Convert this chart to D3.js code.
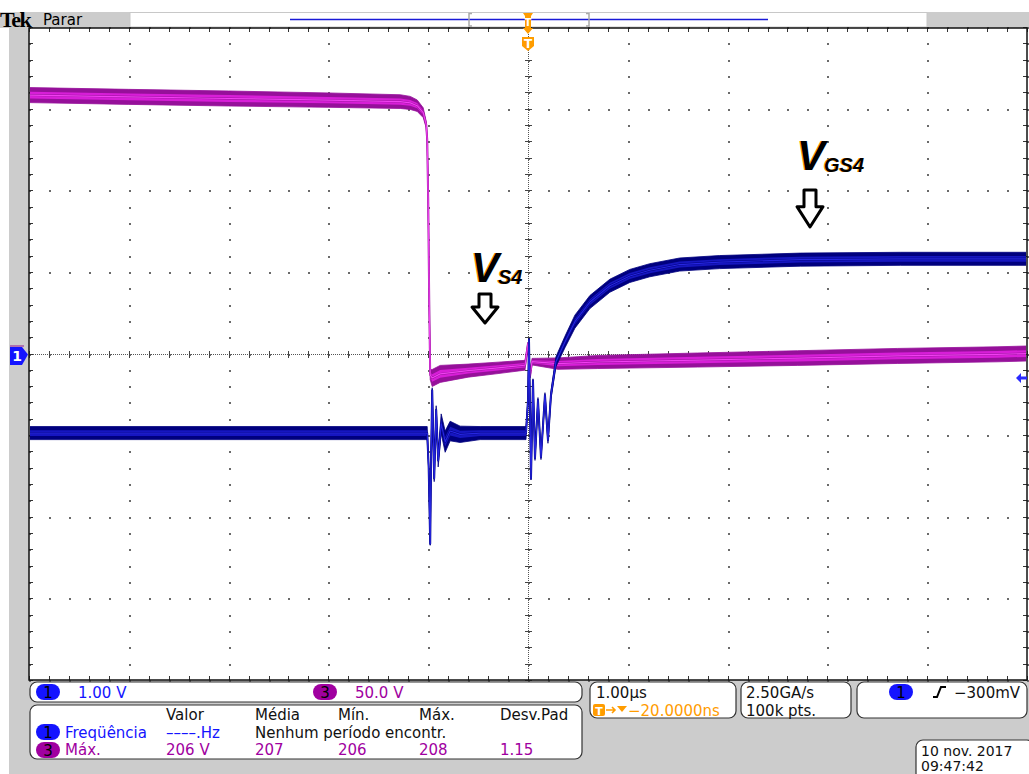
<!DOCTYPE html>
<html>
<head>
<meta charset="utf-8">
<script src="https://cdn.jsdelivr.net/npm/d3@7"></script>
<style>
  html, body { margin: 0; padding: 0; background: #fff; }
  svg { display: block; }
</style>
</head>
<body>
<div id="scope"></div>
<script>
const width = 1029;
const height = 774;

// time in us, 1 us/div, trigger at 0
const timeRange = [-5, 5];
// CH1 1.00 V/div, CH3 50.0 V/div, both grounded on the centre line
const ch1Range = [-4, 4];
const ch3Range = [-200, 200];

// [time us, volts, noise half-width volts]
const ch1Trace = [
    [-5.0, -0.975, 0.08], [-1.01, -0.975, 0.08], [-0.995, -1.4, 0.02],
    [-0.98, -2.33, 0.02], [-0.97, -1.2, 0.02], [-0.96, -0.45, 0.03],
    [-0.94, -1.53, 0.04], [-0.92, -0.69, 0.05], [-0.9, -1.31, 0.08],
    [-0.87, -0.86, 0.12], [-0.83, -1.08, 0.13], [-0.78, -0.95, 0.12],
    [-0.68, -0.99, 0.1], [-0.48, -0.975, 0.08], [-0.02, -0.975, 0.08],
    [0.0, -0.57, 0.02], [0.01, 0.17, 0.02], [0.03, -1.53, 0.02],
    [0.05, -0.33, 0.02], [0.07, -1.28, 0.03], [0.1, -0.57, 0.03],
    [0.13, -1.27, 0.03], [0.17, -0.51, 0.03], [0.2, -1.06, 0.04],
    [0.23, -0.51, 0.05], [0.28, -0.1, 0.06], [0.37, 0.14, 0.07],
    [0.47, 0.39, 0.08], [0.62, 0.63, 0.08], [0.82, 0.83, 0.08],
    [1.02, 0.95, 0.08], [1.22, 1.02, 0.08], [1.52, 1.09, 0.08],
    [1.92, 1.12, 0.08], [2.73, 1.15, 0.08], [3.73, 1.16, 0.08],
    [5.0, 1.16, 0.08],
];

const ch3Trace = [
    [-5.0, 158.3, 4.6], [-4.0, 157.2, 4.6], [-3.0, 156.2, 4.6],
    [-2.0, 155.2, 4.4], [-1.28, 154.3, 4.2], [-1.18, 153.5, 4.0],
    [-1.11, 151.8, 3.5], [-1.05, 147.5, 3.0], [-1.02, 140.2, 2.0],
    [-1.01, 131.0, 1.0], [-1.0, 94.0, 0.5], [-0.99, 33.0, 0.5],
    [-0.98, -13.0, 3.0], [-0.96, -15.0, 5.2], [-0.88, -12.5, 5.2],
    [-0.6, -10.5, 4.0], [-0.3, -8.8, 3.5], [-0.03, -7.2, 3.0],
    [0.0, 6.0, 1.0], [0.02, -14.0, 1.0], [0.04, -5.0, 2.0],
    [0.3, -6.2, 3.5], [0.7, -5.2, 4.0], [1.7, -4.0, 4.3],
    [2.7, -2.8, 4.5], [3.7, -1.5, 4.6], [4.7, -0.5, 4.6],
    [5.0, 0.0, 4.6],
];

const measureHeaders = ['Valor', 'Média', 'Mín.', 'Máx.', 'Desv.Pad'];
const measureRow3 = ['206 V', '207', '206', '208', '1.15'];

const svg = d3.select('#scope')
    .append('svg')
    .attr('width', width)
    .attr('height', height)
    .style('font-family', 'DejaVu Sans, sans-serif');

const x = d3.scaleLinear().domain(timeRange).range([29, 1027]);
const y1 = d3.scaleLinear().domain(ch1Range).range([680, 27]);
const y3 = d3.scaleLinear().domain(ch3Range).range([680, 27]);

const gray = '#cccccc';
const blue = '#1414ff';
const purple = '#a000a0';
const orange = '#ff9c00';

// ---- frame backgrounds
svg.append('rect').attr('x', 0).attr('y', 12).attr('width', 130).attr('height', 16).attr('fill', gray);
svg.append('rect').attr('x', 927).attr('y', 12).attr('width', 102).attr('height', 16).attr('fill', gray);
svg.append('rect').attr('x', 9).attr('y', 28).attr('width', 20).attr('height', 652).attr('fill', gray);
svg.append('rect').attr('x', 9).attr('y', 680).attr('width', 1020).attr('height', 94).attr('fill', gray);

svg.append('text').attr('x', 0).attr('y', 27)
    .style('font-family', 'Liberation Serif, serif').style('font-weight', 'bold')
    .style('font-size', '22px').style('letter-spacing', '-1.5px').text('Tek');
svg.append('text').attr('x', 43).attr('y', 25).style('font-size', '15px').text('Parar');

// record view bar
svg.append('rect').attr('x', 130).attr('y', 12.5).attr('width', 797).attr('height', 14.5)
    .attr('fill', '#fff').attr('stroke', '#c8c8c8');
svg.append('line').attr('x1', 290).attr('x2', 768).attr('y1', 19.5).attr('y2', 19.5)
    .attr('stroke', '#1a1ad8').attr('stroke-width', 1.5);
[469, 589].forEach((bx, i) => {
    const d = i === 0 ? 3 : -3;
    svg.append('path')
        .attr('d', `M${bx + d},13.5 H${bx} V26 H${bx + d}`)
        .attr('fill', 'none').attr('stroke', '#aaa').attr('stroke-width', 1.5);
});

// ---- graticule
const plot = svg.append('g');
plot.append('rect').attr('x', 29).attr('y', 28).attr('width', 998).attr('height', 652).attr('fill', '#fff');

const majorT = d3.range(-5, 5.001, 1);
const minorT = d3.range(-5, 5.001, 0.2);
const majorV = d3.range(-4, 4.001, 1);
const minorV = d3.range(-4, 4.001, 0.2);

const dots = [];
majorT.forEach((t) => minorV.forEach((v) => dots.push([x(t), y1(v)])));
majorV.forEach((v) => minorT.forEach((t) => dots.push([x(t), y1(v)])));
plot.selectAll('rect.dot')
    .data(dots)
    .enter()
    .append('rect')
    .attr('class', 'dot')
    .attr('x', (d) => Math.round(d[0]))
    .attr('y', (d) => Math.round(d[1]))
    .attr('width', 2)
    .attr('height', 2)
    .attr('fill', '#6a6a6a');

const cx = Math.round(x(0)) + 0.5;
const cy = Math.round(y1(0)) + 0.5;
plot.append('line').attr('x1', 29).attr('x2', 1027).attr('y1', cy).attr('y2', cy)
    .attr('stroke', '#555').attr('stroke-dasharray', '1,1');
plot.append('line').attr('x1', cx).attr('x2', cx).attr('y1', 28).attr('y2', 680)
    .attr('stroke', '#555').attr('stroke-dasharray', '1,1');
plot.selectAll('line.tickh')
    .data(minorT)
    .enter()
    .append('line')
    .attr('x1', (d) => Math.round(x(d)) + 0.5)
    .attr('x2', (d) => Math.round(x(d)) + 0.5)
    .attr('y1', cy - 3.5)
    .attr('y2', cy + 3.5)
    .attr('stroke', '#444');
plot.selectAll('line.tickv')
    .data(minorV)
    .enter()
    .append('line')
    .attr('y1', (d) => Math.round(y1(d)) + 0.5)
    .attr('y2', (d) => Math.round(y1(d)) + 0.5)
    .attr('x1', cx - 3.5)
    .attr('x2', cx + 3.5)
    .attr('stroke', '#444');

// edge ticks
minorT.forEach((t) => {
    const px = Math.round(x(t)) + 0.5;
    plot.append('line').attr('x1', px).attr('x2', px).attr('y1', 28).attr('y2', 32).attr('stroke', '#333');
    plot.append('line').attr('x1', px).attr('x2', px).attr('y1', 676).attr('y2', 680).attr('stroke', '#333');
});
minorV.forEach((v) => {
    const py = Math.round(y1(v)) + 0.5;
    plot.append('line').attr('x1', 29).attr('x2', 33).attr('y1', py).attr('y2', py).attr('stroke', '#333');
    plot.append('line').attr('x1', 1023).attr('x2', 1027).attr('y1', py).attr('y2', py).attr('stroke', '#333');
});

plot.append('rect').attr('x', 29).attr('y', 28).attr('width', 998).attr('height', 652)
    .attr('fill', 'none').attr('stroke', '#111').attr('stroke-width', 1.5);

// ---- traces
const defs = svg.append('defs');
defs.append('clipPath').attr('id', 'clip')
    .append('rect').attr('x', 30).attr('y', 29).attr('width', 996).attr('height', 650);

const traces = svg.append('g').attr('clip-path', 'url(#clip)');

// noise envelope drawn dark, inner half of it brighter, then the mean line
function drawTrace(data, yScale, dark, mid, bright) {
    const band = (k) => d3.area()
        .x((d) => x(d[0]))
        .y0((d) => yScale(d[1] - d[2] * k))
        .y1((d) => yScale(d[1] + d[2] * k));
    const centre = d3.line()
        .x((d) => x(d[0]))
        .y((d) => yScale(d[1]));
    traces.append('path').datum(data).attr('d', band(1)).attr('fill', dark)
        .attr('stroke', dark).attr('stroke-width', 0.8);
    traces.append('path').datum(data).attr('d', band(0.45)).attr('fill', mid);
    traces.append('path').datum(data).attr('d', centre)
        .attr('fill', 'none').attr('stroke', dark).attr('stroke-width', 2)
        .attr('stroke-linejoin', 'round');
    traces.append('path').datum(data).attr('d', centre)
        .attr('fill', 'none').attr('stroke', bright).attr('stroke-width', 1.2)
        .attr('stroke-linejoin', 'round');
}

drawTrace(ch3Trace, y3, '#96109a', '#d81ed8', '#f040f0');
drawTrace(ch1Trace, y1, '#00007e', '#1616c0', '#2626e0');

// ---- markers
// trigger position marker in record bar
svg.append('path').attr('d', 'M523,13 H533 L531,16 V28 H533 L528,34 L523,28 H525 V16 Z').attr('fill', orange);
svg.append('text').attr('x', 528).attr('y', 26).attr('text-anchor', 'middle')
    .style('font-size', '10px').style('font-weight', 'bold').attr('fill', '#fff').text('T');
svg.append('path').attr('d', 'M522,37 H534 V46 L528,51 L522,46 Z').attr('fill', orange);
svg.append('text').attr('x', 528).attr('y', 48).attr('text-anchor', 'middle')
    .style('font-size', '12px').style('font-weight', 'bold').attr('fill', '#fff').text('T');

// channel 1 ground marker
svg.append('rect').attr('x', 10).attr('y', 345).attr('width', 14).attr('height', 2).attr('fill', '#b070b0');
svg.append('path').attr('d', `M10,347 H22 L28,${cy} L22,365 H10 Z`).attr('fill', blue);
svg.append('text').attr('x', 17).attr('y', 361).attr('text-anchor', 'middle')
    .style('font-size', '14px').style('font-weight', 'bold').attr('fill', '#fff').text('1');

// trigger level arrow
const trigY = y1(-0.3);
svg.append('path').attr('d', `M1016,${trigY} L1021,${trigY - 5} V${trigY - 1.5} H1027 V${trigY + 1.5} H1021 V${trigY + 5} Z`)
    .attr('fill', '#2a2aff');

// ---- annotations
function label(xp, yp, main, sub) {
    const g = svg.append('g').style('font-family', 'Liberation Sans, Arial, sans-serif')
        .style('font-weight', 'bold').style('font-style', 'italic');
    [[orange, -1], ['#000', 0]].forEach(([col, off]) => {
        g.append('text').attr('x', xp + off).attr('y', yp).style('font-size', '42px')
            .attr('fill', col).text(main);
        g.append('text').attr('x', xp + 27 + off).attr('y', yp + 2).style('font-size', '20px')
            .attr('fill', col).text(sub);
    });
}
label(471, 282, 'V', 'S4');
label(797, 170, 'V', 'GS4');

function hollowArrow(xc, top, bottom) {
    const headY = top + (bottom - top) * 0.45;
    svg.append('path')
        .attr('d', `M${xc - 6},${top} H${xc + 6} V${headY} H${xc + 13} L${xc},${bottom} L${xc - 13},${headY} H${xc - 6} Z`)
        .attr('fill', '#fff').attr('stroke', '#000').attr('stroke-width', 3)
        .attr('stroke-linejoin', 'round');
}
hollowArrow(485, 294, 323);
hollowArrow(810, 190, 227);

// ---- bottom readouts
function box(x0, y0, w, h) {
    svg.append('rect').attr('x', x0).attr('y', y0).attr('width', w).attr('height', h)
        .attr('rx', 7).attr('fill', '#fff').attr('stroke', '#333').attr('stroke-width', 1.2);
}
function pill(xc, yc, col, txt) {
    svg.append('rect').attr('x', xc - 12).attr('y', yc - 8).attr('width', 24).attr('height', 16)
        .attr('rx', 8).attr('fill', col);
    svg.append('text').attr('x', xc).attr('y', yc + 5.5).attr('text-anchor', 'middle')
        .style('font-size', '15px').attr('fill', '#000').text(txt);
}
function txt(xp, yp, col, s, size = 15) {
    svg.append('text').attr('x', xp).attr('y', yp).style('font-size', `${size}px`).attr('fill', col).text(s);
}

box(30, 682, 552, 20);
pill(48, 692, blue, '1');
txt(78, 698, blue, '1.00 V');
pill(325, 692, purple, '3');
txt(355, 698, purple, '50.0 V');

box(30, 705, 552, 54);
const colX = [166, 255, 338, 419, 500];
measureHeaders.forEach((h, i) => txt(colX[i], 720, '#111', h));
pill(48, 732, blue, '1');
txt(65, 738, blue, 'Freqüência');
txt(166, 738, blue, '––––.Hz');
txt(255, 738, '#111', 'Nenhum período encontr.');
pill(48, 750, purple, '3');
txt(65, 755, purple, 'Máx.');
measureRow3.forEach((v, i) => txt(colX[i], 755, purple, v));

box(590, 682, 146, 36);
txt(596, 698, '#111', '1.00µs');
svg.append('rect').attr('x', 593).attr('y', 704).attr('width', 12).attr('height', 12).attr('rx', 2).attr('fill', orange);
svg.append('text').attr('x', 599).attr('y', 714.5).attr('text-anchor', 'middle')
    .style('font-size', '11px').style('font-weight', 'bold').attr('fill', '#fff').text('T');
svg.append('path').attr('d', 'M606,710 H615 M612,707 L615,710 L612,713')
    .attr('fill', 'none').attr('stroke', orange).attr('stroke-width', 1.6);
svg.append('path').attr('d', 'M617,706 H627 L622,712 Z').attr('fill', orange);
txt(628, 716, orange, '−20.0000ns');

box(741, 682, 110, 36);
txt(746, 698, '#111', '2.50GA/s');
txt(746, 716, '#111', '100k pts.');

box(857, 682, 170, 36);
pill(901, 692, blue, '1');
svg.append('path').attr('d', 'M933,697 H937 L941,687 H946')
    .attr('fill', 'none').attr('stroke', '#000').attr('stroke-width', 2);
txt(954, 698, '#111', '−300mV');

box(916, 740, 118, 40);
txt(921, 756, '#111', '10 nov. 2017', 14);
txt(921, 771, '#111', '09:47:42', 14);
</script>
</body>
</html>
